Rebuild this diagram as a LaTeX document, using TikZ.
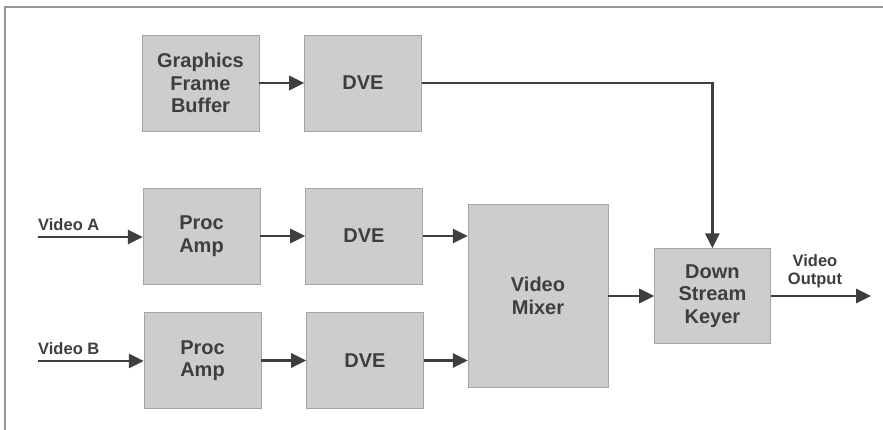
\documentclass[tikz,border=0pt]{standalone}
\usepackage{fontspec}
\setmainfont{Liberation Sans}
\usepackage{tikz}
\usetikzlibrary{arrows.meta,positioning}
\definecolor{boxgray}{RGB}{205,205,205}
\definecolor{edgegray}{RGB}{165,165,165}
\definecolor{inkgray}{RGB}{62,62,62}
\definecolor{framegray}{RGB}{150,150,150}
\tikzset{
  unit/.style={rectangle, draw=edgegray, fill=boxgray, text=inkgray, align=center,
               minimum width=117pt, minimum height=96pt, inner sep=0pt,
               font=\fontsize{20}{22.5}\selectfont\bfseries},
  bigunit/.style={unit, minimum width=140pt, minimum height=183pt},
  sig/.style={-{Triangle[length=15pt, width=14pt]}, line width=2.8pt, inkgray},
  siglabel/.style={text=inkgray, font=\fontsize{16.5}{17.5}\selectfont\bfseries, inner sep=0pt, align=center},
}

\begin{document}
\begin{tikzpicture}[x=1pt, y=-1pt, node distance=46pt]
\useasboundingbox (0,0) rectangle (883,430);
\draw[framegray, line width=1.2pt] (5,430) -- (5,7) -- (883,7);
% top row
\node[unit] (gfb) at (200.5,83) {Graphics\\Frame\\Buffer};
\node[unit, right=45pt of gfb] (dvetop) {DVE};
% channel A
\node[unit] (procA) at (201.5,236) {Proc\\Amp};
\node[unit, right=45pt of procA] (dveA) {DVE};
% channel B
\node[unit] (procB) at (202.5,360.5) {Proc\\Amp};
\node[unit, right=45pt of procB] (dveB) {DVE};
% mixing and keying
\node[bigunit] (mixer) at (538,296) {Video\\Mixer};
\node[unit, minimum width=116pt, minimum height=95pt, right=46pt of mixer] (dsk) {Down\\Stream\\Keyer};
\coordinate (inA) at (38,237);
\coordinate (inB) at (38,361);
\coordinate (out) at (871,296);
\node[siglabel, anchor=south west] (labA) at (38,231) {Video A};
\node[siglabel, anchor=south west] (labB) at (38,355) {Video B};
\node[siglabel] (labOut) at (815,271) {Video\\Output};
\draw[sig] (inA) -- (procA.west |- inA);
\draw[sig] (inB) -- (procB.west |- inB);
\draw[sig] (gfb) -- (dvetop);
\draw[sig] (procA) -- (dveA);
\draw[sig] (procB) -- (dveB);
\draw[sig] (dveA) -- (dveA -| mixer.west);
\draw[sig] (dveB) -- (dveB -| mixer.west);
\draw[sig] (dvetop.east) -| (dsk.north);
\draw[sig] (mixer) -- (dsk);
\draw[sig] (dsk) -- (out);
\end{tikzpicture}
\end{document}
